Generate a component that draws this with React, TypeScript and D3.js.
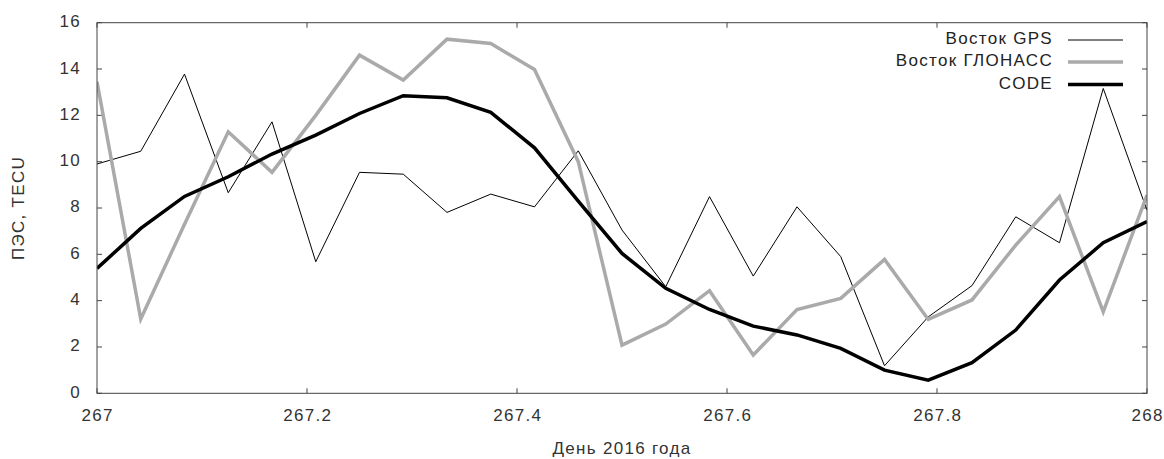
import React from "react";
import * as d3 from "d3";

const days: number[] = Array.from({ length: 25 }, (_, i) => 267 + i / 24);

const gpsValues: number[] = [
  9.9, 10.45, 13.78, 8.66, 11.72, 5.68, 9.54, 9.46, 7.81, 8.6, 8.05, 10.47, 7.05,
  4.6, 8.49, 5.06, 8.05, 5.9, 1.19, 3.3, 4.65, 7.62, 6.5, 13.16, 7.9,
];
const glonassValues: number[] = [
  13.45, 3.21, 7.3, 11.29, 9.54, 12.0, 14.6, 13.52, 15.29, 15.1, 13.98, 10.0, 2.08,
  2.99, 4.43, 1.65, 3.62, 4.1, 5.78, 3.19, 4.03, 6.4, 8.49, 3.52, 8.56,
];
const codeValues: number[] = [
  5.39, 7.12, 8.5, 9.35, 10.33, 11.15, 12.08, 12.85, 12.76, 12.13, 10.6, 8.3, 6.04,
  4.53, 3.62, 2.9, 2.52, 1.94, 1.0, 0.57, 1.32, 2.73, 4.89, 6.5, 7.41,
];

const xTicks: number[] = [267, 267.2, 267.4, 267.6, 267.8, 268];
const yTicks: number[] = [0, 2, 4, 6, 8, 10, 12, 14, 16];

const seriesNames: string[] = ["Восток GPS", "Восток ГЛОНАСС", "CODE"];
const xTitle = "День 2016 года";
const yTitle = "ПЭС, TECU";

const W = 1164;
const H = 459;
const M = { left: 97, right: 17, top: 22.7, bottom: 65.7 };

export default function App() {
  const x = d3.scaleLinear().domain([267, 268]).range([M.left, W - M.right]);
  const y = d3.scaleLinear().domain([0, 16]).range([H - M.bottom, M.top]);

  const mk = (vals: number[]) =>
    d3
      .line<number>()
      .x((_, i) => x(days[i]))
      .y((d) => y(d))(vals) || "";

  const styles = [
    { stroke: "#000", width: 1 },
    { stroke: "#aaaaaa", width: 3.5 },
    { stroke: "#000", width: 3.5 },
  ];
  const data = [gpsValues, glonassValues, codeValues];

  const x0 = x(267), x1 = x(268), y0 = y(0), y1 = y(16);
  const tl = 5;
  const font = "'Liberation Sans', Arial, sans-serif";
  const fs = 17;
  const ls = 1.3;
  const legendY = [40, 62, 84.5];

  return (
    <svg
      width={W}
      height={H}
      style={{ position: "absolute", left: 0, top: 0, background: "#fff" }}
      fontFamily={font}
      fontSize={fs}
      letterSpacing={ls}
    >
      <rect x={0} y={0} width={W} height={H} fill="#fff" />
      <clipPath id="clip">
        <rect x={x0} y={y1} width={x1 - x0} height={y0 - y1} />
      </clipPath>
      {xTicks.map((t) => (
        <g key={"x" + t}>
          <line x1={x(t)} x2={x(t)} y1={y0} y2={y0 - tl} stroke="#444" />
          <line x1={x(t)} x2={x(t)} y1={y1} y2={y1 + tl} stroke="#444" />
          <text
            x={x(t) + ls / 2}
            y={y0 + 23}
            textAnchor="middle"
            dominantBaseline="middle"
            fill="#333"
          >
            {t}
          </text>
        </g>
      ))}
      {yTicks.map((t) => (
        <g key={"y" + t}>
          <line x1={x0} x2={x0 + tl} y1={y(t)} y2={y(t)} stroke="#444" />
          <line x1={x1} x2={x1 - tl} y1={y(t)} y2={y(t)} stroke="#444" />
          <text
            x={x0 - 16}
            y={y(t)}
            textAnchor="end"
            dominantBaseline="middle"
            fill="#333"
          >
            {t}
          </text>
        </g>
      ))}
      <g clipPath="url(#clip)">
        {data.map((vals, i) => (
          <path
            key={i}
            d={mk(vals)}
            fill="none"
            stroke={styles[i].stroke}
            strokeWidth={styles[i].width}
            strokeLinejoin="miter"
          />
        ))}
      </g>
      <rect
        x={x0}
        y={y1}
        width={x1 - x0}
        height={y0 - y1}
        fill="none"
        stroke="#444"
        strokeWidth={1}
      />
      {seriesNames.map((n, i) => (
        <g key={n}>
          <text
            x={1053}
            y={legendY[i]}
            textAnchor="end"
            dominantBaseline="middle"
            fill="#222"
          >
            {n}
          </text>
          <line
            x1={1068}
            x2={1123}
            y1={legendY[i]}
            y2={legendY[i]}
            stroke={styles[i].stroke}
            strokeWidth={styles[i].width}
          />
        </g>
      ))}
      <text
        x={(x0 + x1) / 2}
        y={450}
        textAnchor="middle"
        dominantBaseline="middle"
        fill="#333"
      >
        {xTitle}
      </text>
      <text
        transform={`translate(20,${(y0 + y1) / 2}) rotate(-90)`}
        textAnchor="middle"
        dominantBaseline="middle"
        fill="#333"
      >
        {yTitle}
      </text>
    </svg>
  );
}
